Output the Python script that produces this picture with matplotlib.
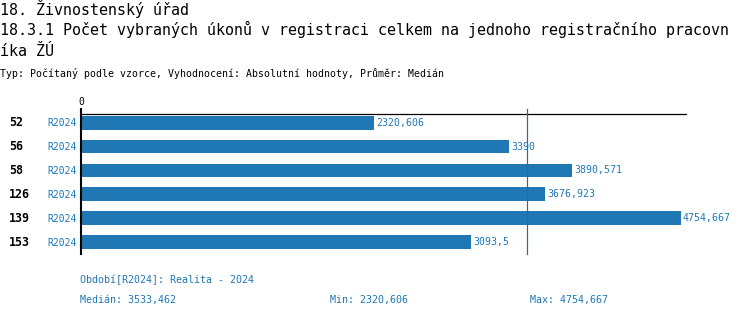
import matplotlib
matplotlib.use("Agg")
import matplotlib.pyplot as plt

categories = ["52", "56", "58", "126", "139", "153"]
period_labels = ["R2024"] * 6
values = [2320.606, 3390, 3890.571, 3676.923, 4754.667, 3093.5]
value_labels = ["2320,606", "3390", "3890,571", "3676,923", "4754,667", "3093,5"]
median = 3533.462
median_label = "3533,462"
min_label = "2320,606"
max_label = "4754,667"

title1 = "18. Živnostenský úřad"
title2 = "18.3.1 Počet vybraných úkonů v registraci celkem na jednoho registračního pracovn"
title3 = "íka ŽÚ"
subtitle = "Typ: Počítaný podle vzorce, Vyhodnocení: Absolutní hodnoty, Průměr: Medián"
period_text = "Období[R2024]: Realita - 2024"

W, H = 750, 318
BLUE = "#1f77b4"
MONO = "DejaVu Sans Mono"

fig = plt.figure(figsize=(W / 100, H / 100), dpi=100)

def px(x, y):
    return x / W, 1 - y / H

ax_left, ax_right, ax_top, ax_bot = 81, 686, 114, 254
ax = fig.add_axes([ax_left / W, 1 - ax_bot / H, (ax_right - ax_left) / W, (ax_bot - ax_top) / H])

pos = list(range(len(categories)))
ax.barh(pos, values, height=0.58, color=BLUE, zorder=2)
ax.set_xlim(0, 4795)
ax.set_ylim(5.49, -0.36)

for s in ["right", "bottom"]:
    ax.spines[s].set_visible(False)
ax.spines["top"].set_linewidth(0.9)
ax.spines["left"].set_linewidth(1.5)
ax.spines["top"].set_color("black")
ax.spines["left"].set_color("black")

ax.set_yticks([])
ax.xaxis.tick_top()
ax.set_xticks([0])
ax.set_xticklabels(["0"], fontsize=7, family=MONO)
ax.tick_params(axis="x", direction="out", length=4.3, width=1.5, pad=0.5, color="black")

# median line
ax.axvline(median, ymin=0, ymax=1 + 5 / 140, color="#2a6aa0", lw=0.9, clip_on=False, zorder=3)

for i, (v, lab) in enumerate(zip(values, value_labels)):
    ax.annotate(lab, (v, i), xytext=(1.5, 0), textcoords="offset points",
                va="center", ha="left", fontsize=7.1, color=BLUE, family=MONO)

for i, (c, p) in enumerate(zip(categories, period_labels)):
    y = 122.7 + 24 * i
    fig.text(*px(9, y), c, fontsize=8.4, fontweight="bold", family=MONO, va="center", ha="left")
    fig.text(*px(77, y), p, fontsize=7, family=MONO, color=BLUE, va="center", ha="right")

fig.text(*px(0, 15.5), title1, fontsize=10.85, family=MONO, va="baseline", ha="left")
fig.text(*px(0, 35.5), title2, fontsize=10.85, family=MONO, va="baseline", ha="left")
fig.text(*px(0, 55.5), title3, fontsize=10.85, family=MONO, va="baseline", ha="left")
fig.text(*px(0, 77), subtitle, fontsize=7.15, family=MONO, va="baseline", ha="left")

fig.text(*px(80, 280), period_text, fontsize=7.2, family=MONO, color=BLUE, va="center", ha="left")
fig.text(*px(80, 300), "Medián: " + median_label, fontsize=7.2, family=MONO, color=BLUE, va="center", ha="left")
fig.text(*px(330, 300), "Min: " + min_label, fontsize=7.2, family=MONO, color=BLUE, va="center", ha="left")
fig.text(*px(530, 300), "Max: " + max_label, fontsize=7.2, family=MONO, color=BLUE, va="center", ha="left")

fig.savefig("out.png", dpi=100)
